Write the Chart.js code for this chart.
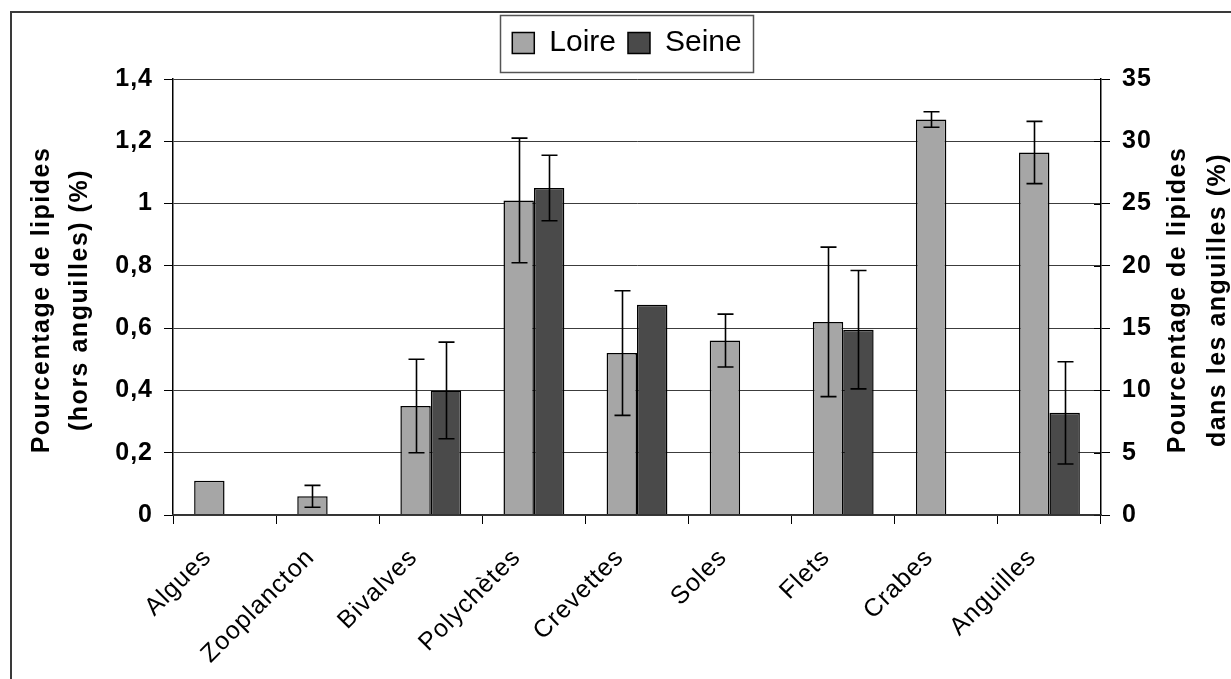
<!DOCTYPE html>
<html>
<head>
<meta charset="utf-8">
<title>Lipides</title>
<script src="https://cdn.jsdelivr.net/npm/chart.js@4"></script>
<style>
  html, body { margin: 0; padding: 0; background: #fff; }
</style>
</head>
<body>
<canvas id="lipidChart" width="1231" height="679"></canvas>
<script>
const categories = ['Algues', 'Zooplancton', 'Bivalves', 'Polychètes', 'Crevettes', 'Soles', 'Flets', 'Crabes', 'Anguilles'];

// left axis: % lipides hors anguilles
const loireValues = [0.11, 0.06, 0.35, 1.01, 0.52, 0.56, 0.62, 1.27, null];
const loireErrors = [null, 0.035, 0.15, 0.2, 0.2, 0.085, 0.24, 0.025, null];
const seineValues = [null, null, 0.40, 1.05, 0.675, null, 0.595, null, null];
const seineErrors = [null, null, 0.155, 0.105, null, null, 0.19, null, null];

// right axis: % lipides dans les anguilles
const loireEelValues = [null, null, null, null, null, null, null, null, 29.1];
const loireEelErrors = [null, null, null, null, null, null, null, null, 2.5];
const seineEelValues = [null, null, null, null, null, null, null, null, 8.2];
const seineEelErrors = [null, null, null, null, null, null, null, null, 4.1];

const leftTitle = ['Pourcentage de lipides', '(hors anguilles) (%)'];
const rightTitle = ['Pourcentage de lipides', 'dans les anguilles (%)'];

const LOIRE = '#a6a6a6';
const SEINE = '#4a4a4a';
const FONT = '"Liberation Sans", Arial, sans-serif';

Chart.defaults.font.family = FONT;
Chart.defaults.color = '#000';

// outer frame
const frame = {
    id: 'frame',
    beforeDraw(chart) {
        const ctx = chart.ctx;
        ctx.save();
        ctx.strokeStyle = '#3a3a3a';
        ctx.lineWidth = 2;
        ctx.strokeRect(11, 12, 1260, 720);
        ctx.restore();
    }
};

// extra room between legend and plot
const legendGap = {
    id: 'legendGap',
    beforeLayout(chart) {
        const legend = chart.legend;
        if (!legend || legend._gapWrapped) return;
        const fit = legend.fit;
        legend.fit = function () {
            fit.call(this);
            this.height += 11;
        };
        legend._gapWrapped = true;
    }
};

// +/- error bars on top of the bars
const errorBars = {
    id: 'errorBars',
    afterDatasetsDraw(chart) {
        const ctx = chart.ctx;
        ctx.save();
        ctx.strokeStyle = '#000';
        ctx.lineWidth = 1.6;
        chart.data.datasets.forEach((ds, i) => {
            const meta = chart.getDatasetMeta(i);
            const yScale = chart.scales[meta.yAxisID];
            meta.data.forEach((bar, j) => {
                const v = ds.data[j];
                const e = ds.errors[j];
                if (v == null || e == null) return;
                const x = Math.round(bar.x) + 0.5;
                const top = yScale.getPixelForValue(v + e);
                const bottom = yScale.getPixelForValue(v - e);
                ctx.beginPath();
                ctx.moveTo(x, top);
                ctx.lineTo(x, bottom);
                ctx.moveTo(x - 8, top);
                ctx.lineTo(x + 8, top);
                ctx.moveTo(x - 8, bottom);
                ctx.lineTo(x + 8, bottom);
                ctx.stroke();
            });
        });

        // right axis ticks also reach a little inside the plot
        const y2 = chart.scales.y2;
        ctx.strokeStyle = '#000';
        ctx.lineWidth = 1;
        ctx.beginPath();
        y2.ticks.forEach((t) => {
            const y = Math.round(y2.getPixelForValue(t.value)) + 0.5;
            ctx.moveTo(y2.left - 7, y);
            ctx.lineTo(y2.left, y);
        });
        ctx.stroke();
        ctx.restore();
        // tick labels (z: 1) are drawn after this, slightly spaced out
        ctx.letterSpacing = '1px';
    }
};

// legend border and the two axis titles
const decorations = {
    id: 'decorations',
    afterDraw(chart) {
        const ctx = chart.ctx;
        ctx.letterSpacing = '0px';
        const boxes = chart.legend.legendHitBoxes;
        if (boxes && boxes.length) {
            const left = Math.min(...boxes.map((b) => b.left)) - 12;
            const right = Math.max(...boxes.map((b) => b.left + b.width)) + 12;
            const cy = boxes[0].top + boxes[0].height / 2;
            ctx.save();
            ctx.strokeStyle = '#555';
            ctx.lineWidth = 1.5;
            ctx.strokeRect(Math.round(left) + 0.5, Math.round(cy - 28.5) + 0.5, Math.round(right - left), 57);
            ctx.restore();
        }

        const area = chart.chartArea;
        const yc = (area.top + area.bottom) / 2 + 3;
        ctx.save();
        ctx.font = 'bold 25px ' + FONT;
        ctx.letterSpacing = '1.5px';
        ctx.fillStyle = '#000';
        ctx.textAlign = 'center';
        ctx.textBaseline = 'middle';
        const put = (text, x) => {
            ctx.save();
            ctx.translate(x, yc);
            ctx.rotate(-Math.PI / 2);
            ctx.fillText(text, 0, 0);
            ctx.restore();
        };
        put(leftTitle[0], area.left - 131);
        put(leftTitle[1], area.left - 93);
        put(rightTitle[0], area.right + 77);
        put(rightTitle[1], area.right + 117);
        ctx.restore();
    }
};

const commaTick = (v) => String(Number(v.toFixed(1))).replace('.', ',');

new Chart(document.getElementById('lipidChart'), {
    type: 'bar',
    data: {
        labels: categories,
        datasets: [
            {
                label: 'Loire', data: loireValues, errors: loireErrors, yAxisID: 'y', stack: 'loire',
                backgroundColor: LOIRE, borderColor: '#000', borderWidth: 1.5,
            },
            {
                label: 'Seine', data: seineValues, errors: seineErrors, yAxisID: 'y', stack: 'seine',
                backgroundColor: SEINE, borderColor: '#000', borderWidth: 1.5,
            },
            {
                label: 'Loire (anguilles)', data: loireEelValues, errors: loireEelErrors, yAxisID: 'y2', stack: 'loire',
                backgroundColor: LOIRE, borderColor: '#000', borderWidth: 1.5,
            },
            {
                label: 'Seine (anguilles)', data: seineEelValues, errors: seineEelErrors, yAxisID: 'y2', stack: 'seine',
                backgroundColor: SEINE, borderColor: '#000', borderWidth: 1.5,
            },
        ],
    },
    options: {
        responsive: false,
        animation: false,
        categoryPercentage: 0.59,
        barPercentage: 1.0,
        layout: { padding: { left: 23, top: 16, right: 0, bottom: 0 } },
        plugins: {
            tooltip: { enabled: false },
            legend: {
                position: 'top',
                labels: {
                    boxWidth: 22,
                    boxHeight: 21,
                    padding: 12,
                    color: '#000',
                    font: { size: 30 },
                    filter: (item) => item.datasetIndex < 2,
                },
            },
        },
        scales: {
            x: {
                offset: true,
                grid: { offset: true, drawOnChartArea: false, drawTicks: true, tickLength: 9, tickColor: '#000', lineWidth: 1 },
                border: { display: true, color: '#333', width: 1.5, z: 1 },
                ticks: {
                    z: 1, color: '#000', font: { size: 25 },
                    maxRotation: 45, minRotation: 45, autoSkip: false,
                    padding: 19, labelOffset: -17,
                },
                afterFit(s) { s.height = 164; },
            },
            y: {
                position: 'left',
                min: 0,
                max: 1.4,
                stacked: false,
                ticks: { stepSize: 0.2, z: 1, color: '#000', padding: 11, font: { size: 25, weight: 'bold' }, callback: commaTick },
                grid: { color: '#3c3c3c', lineWidth: 1, drawTicks: true, tickLength: 9, tickColor: '#000' },
                border: { display: true, color: '#000', width: 1.5 },
                afterFit(s) { s.width = 150; },
            },
            y2: {
                position: 'right',
                min: 0,
                max: 35,
                stacked: false,
                ticks: { stepSize: 5, z: 1, color: '#000', padding: 12, font: { size: 25, weight: 'bold' } },
                grid: { drawOnChartArea: false, drawTicks: true, tickLength: 9, tickColor: '#000' },
                border: { display: true, color: '#000', width: 1.5 },
                afterFit(s) { s.width = 130; },
            },
        },
    },
    plugins: [frame, legendGap, errorBars, decorations],
});
</script>
</body>
</html>
